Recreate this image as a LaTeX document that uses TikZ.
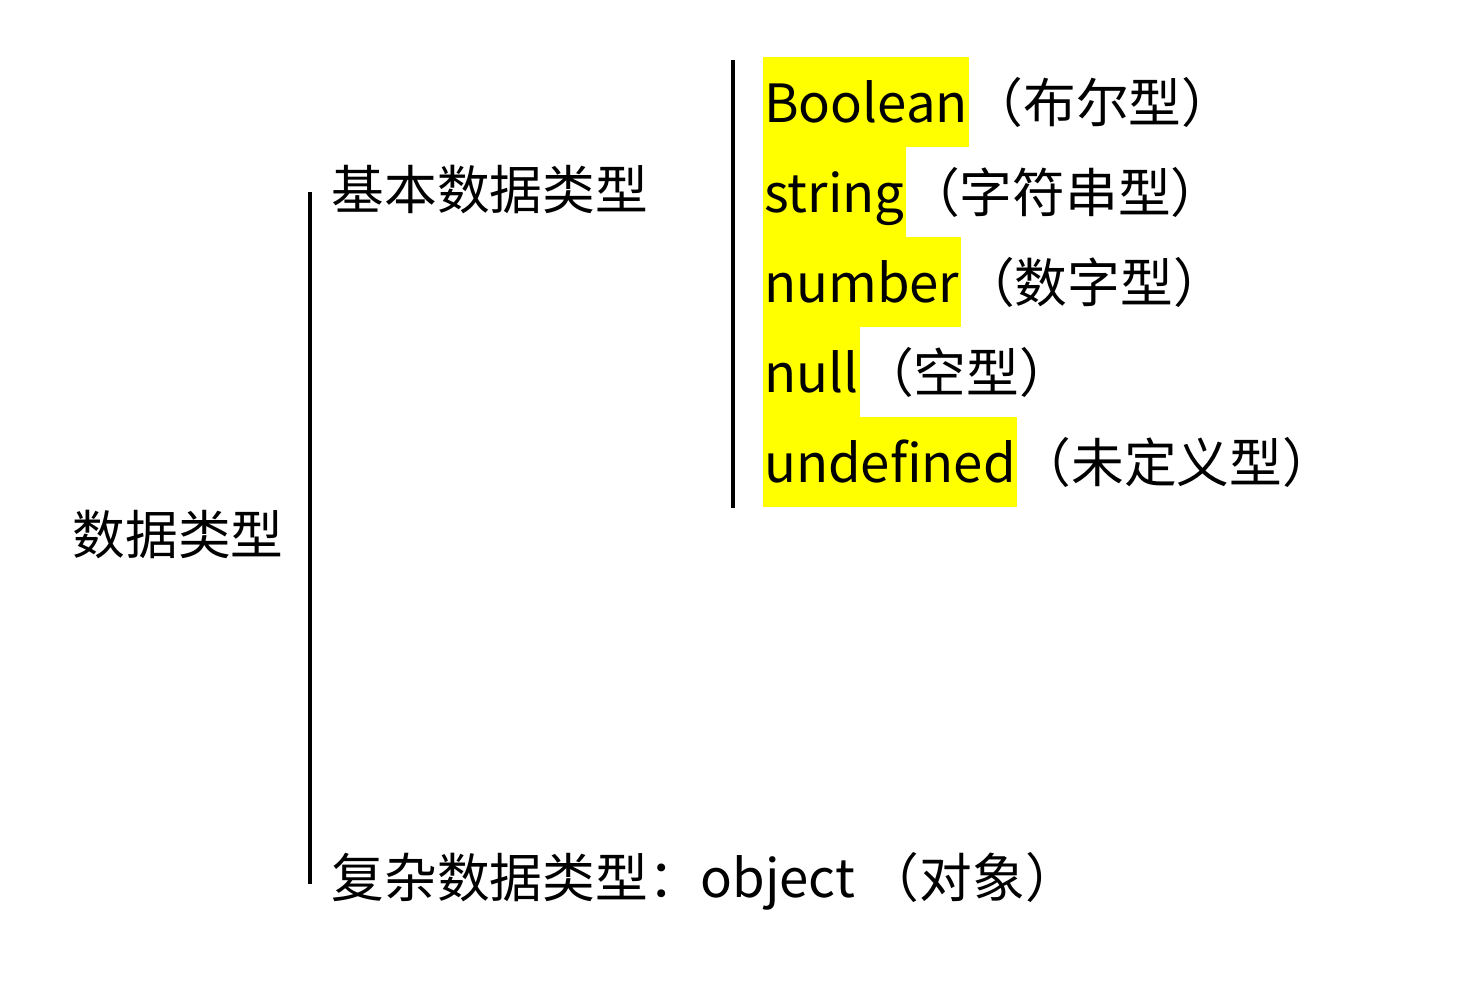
\documentclass[tikz,border=0pt]{standalone}
\usepackage{fontspec}
\setmainfont{Noto Sans CJK SC}
\definecolor{hlyellow}{RGB}{255,255,0}
\begin{document}
\begin{tikzpicture}[x=1cm,y=1cm,
  every node/.style={font=\fontsize{15}{18}\selectfont, inner sep=0pt},
  hl/.style={fill=hlyellow, anchor=west, minimum height=0.9cm, inner xsep=0.4pt, text height=0.42cm, text depth=0cm},
  note/.style={anchor=base west},
  bar/.style={line width=1.2pt, black}]
\useasboundingbox (0,0) rectangle (14.72,9.84);
\node[anchor=west] (root) at (0.72,4.49) {数据类型};
\node[anchor=west] (basic) at (3.31,7.94) {基本数据类型};
\node[anchor=west] (complex) at (3.31,1.03) {复杂数据类型：object （对象）};
\coordinate (l1a) at (3.10,7.92);
\coordinate (l1b) at (3.10,1.00);
\coordinate (l2a) at (7.33,9.24);
\coordinate (l2b) at (7.33,4.76);
\draw[bar] (l1a) -- (l1b);
\draw[bar] (l2a) -- (l2b);
\node[hl] (b1) at (7.62,8.82) {Boolean};
\node[note] (n1) at (b1.base east) {（布尔型）};
\node[hl] (b2) at (7.62,7.92) {string};
\node[note] (n2) at (b2.base east) {（字符串型）};
\node[hl] (b3) at (7.62,7.02) {number};
\node[note] (n3) at (b3.base east) {（数字型）};
\node[hl] (b4) at (7.62,6.12) {null};
\node[note] (n4) at (b4.base east) {（空型）};
\node[hl] (b5) at (7.62,5.22) {undefined};
\node[note] (n5) at (b5.base east) {（未定义型）};
\end{tikzpicture}
\end{document}
